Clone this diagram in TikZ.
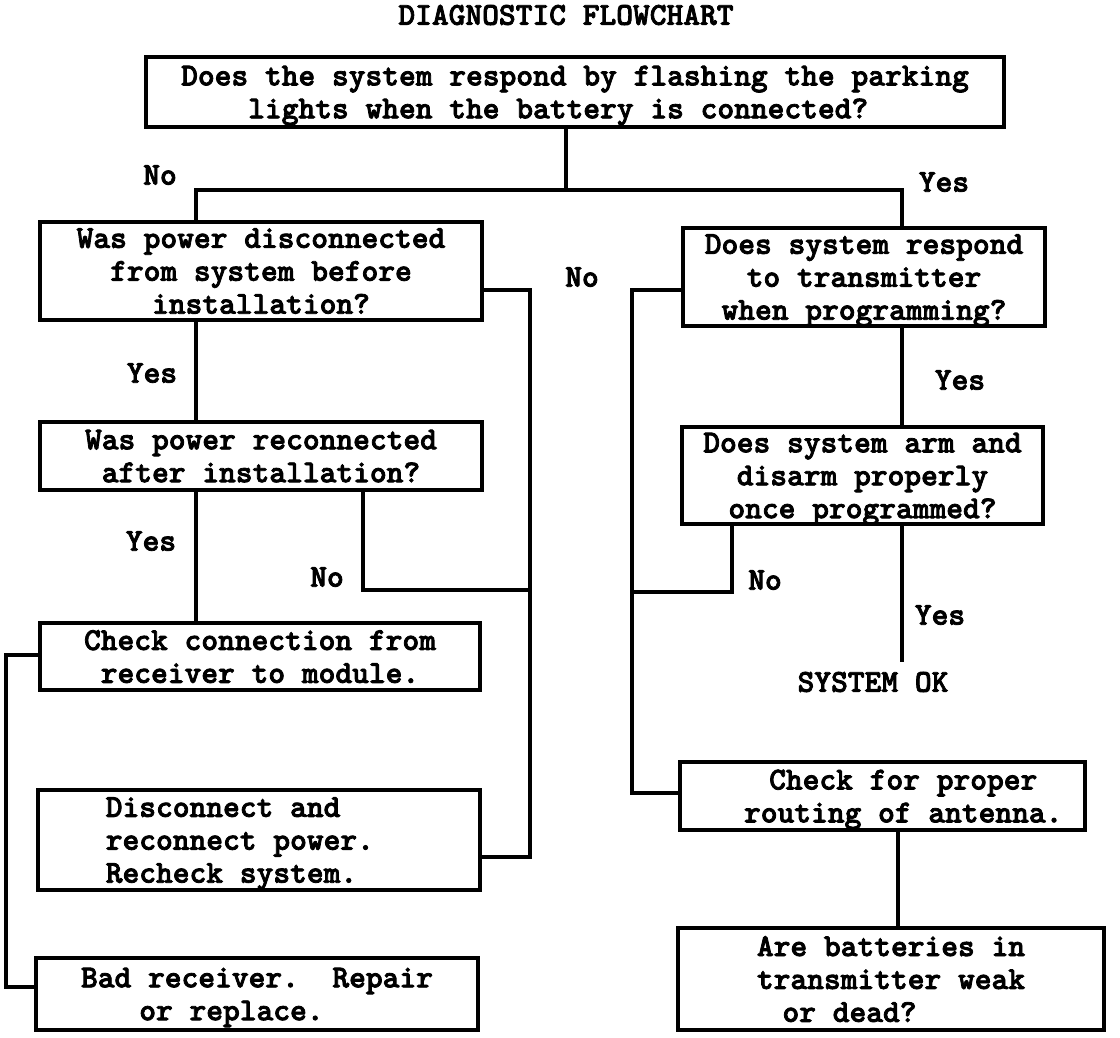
\documentclass[tikz,border=0pt]{standalone}
\usepackage{fontspec}
\newfontfamily\flowtt{lmmonolt10-bold.otf}[UprightFeatures={FakeBold=2.5}]
\newcommand\flowfont{\fontsize{22.7}{23.4}\selectfont\flowtt}

\begin{document}
\begin{tikzpicture}[x=0.025cm,y=-0.025cm,line width=2.4pt,
    box/.style 2 args={draw,align=center,inner sep=0pt,font=\flowfont,
      minimum width=#1*0.025cm,minimum height=#2*0.025cm,text depth=-4pt},
    tag/.style={font=\flowfont,inner sep=0pt}]
    \useasboundingbox (0,0) rectangle (1120,1038);

    \node[tag] (title) at (566,15) {DIAGNOSTIC FLOWCHART};
    \node[box={858}{70}] (q1) at (575,92)
      {Does the system respond by flashing the parking\\lights when the battery is connected?\hspace*{1.05em}};
    % left column
    \node[box={442}{98}] (q2) at (261,271) {Was power disconnected\\from system before\\installation?};
    \node[box={442}{68}] (q3) at (261,456) {Was power reconnected\\after installation?};
    \node[box={440}{67}] (q4) at (260,656.5) {Check connection from\\receiver to module.};
    \node[box={442}{100},align=left] (q5) at (259,840)
      {Disconnect and\\reconnect power.\hspace*{1.2em}\mbox{}\\Recheck system.};
    \node[box={442}{72}] (q6) at (257,994) {Bad receiver.\ \ Repair\\or replace.\hspace*{1.6em}};
    % right column
    \node[box={362}{98}] (q7) at (864,277) {Does system respond\\to transmitter\\when programming?};
    \node[box={361}{97}] (q8) at (862.5,475.5) {Does system arm and\\disarm properly\\once programmed?};
    \node[box={405}{68}] (q9) at (882.5,796)
      {\hspace*{1.3em}Check for proper\\\hspace*{1.3em}routing of antenna.};
    \node[box={426}{102}] (q10) at (891,979)
      {Are batteries in\\transmitter weak\\or dead?\hspace*{2.6em}};

    \node[tag] (no1) at (160,175) {No};
    \node[tag] (yes1) at (944,182) {Yes};
    \node[tag] (no2) at (582,277) {No};
    \node[tag] (yes2) at (152,373) {Yes};
    \node[tag] (yes3) at (151,541) {Yes};
    \node[tag] (no3) at (327,577) {No};
    \node[tag] (yes4) at (960,380) {Yes};
    \node[tag] (no4) at (765,580) {No};
    \node[tag] (yes5) at (940,615) {Yes};
    \node[tag] (ok) at (873,682) {SYSTEM OK};

    \coordinate (b1) at (566,190);
    \coordinate (b2) at (196,190);
    \coordinate (b3) at (902,190);
    \coordinate (b4) at (898,830);
    \coordinate (r1) at (530,290);
    \coordinate (r2) at (530,857);
    \coordinate (n1) at (363,590);
    \coordinate (l1) at (6,655);
    \coordinate (l2) at (6,987);
    \coordinate (m1) at (632,290);
    \coordinate (m2) at (632,793);
    \coordinate (m3) at (732,592);

    \draw (b1 |- q1.south) -- (b1);
    \draw (b2 |- q2.north) -- (b2) -- (b3) -- (b3 |- q7.north);
    \draw (q2.east |- r1) -- (r1) -- (r2) -- (q5.east |- r2);
    \draw (b2 |- q2.south) -- (b2 |- q3.north);
    \draw (b2 |- q3.south) -- (b2 |- q4.north);
    \draw (n1 |- q3.south) -- (n1) -- (r1 |- n1);
    \draw (q4.west |- l1) -- (l1) -- (l2) -- (q6.west |- l2);
    %
    \draw (q7.west |- m1) -- (m1) -- (m2) -- (q9.west |- m2);
    \draw (b3 |- q7.south) -- (b3 |- q8.north);
    \draw (m3 |- q8.south) -- (m3) -- (m1 |- m3);
    \draw[shorten >=6pt] (b3 |- q8.south) -- (b3 |- ok.north);
    \draw (b4 |- q9.south) -- (b4 |- q10.north);
\end{tikzpicture}
\end{document}
